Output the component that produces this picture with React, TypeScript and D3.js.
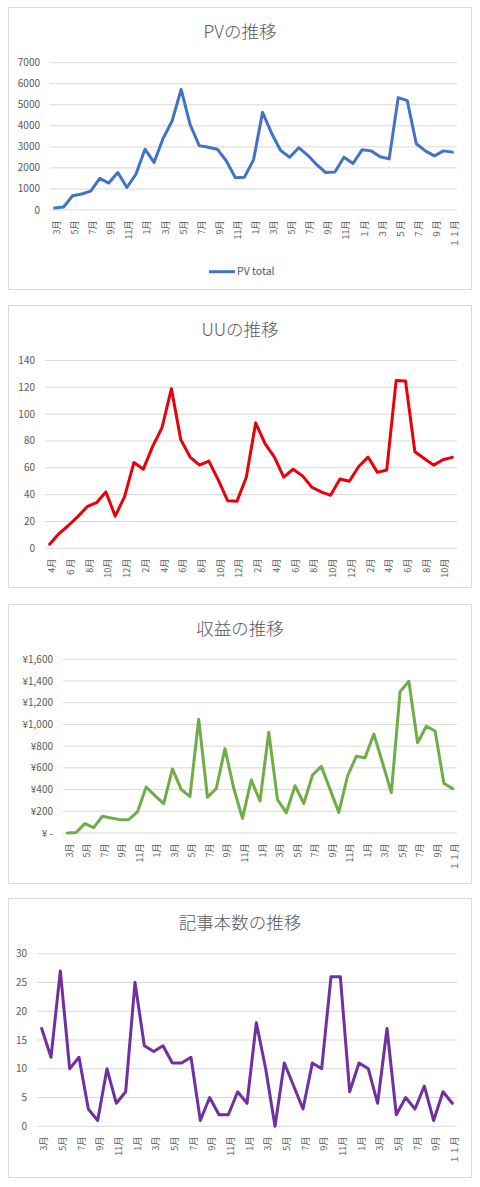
import React, { useEffect, useRef } from "react";
import * as d3 from "d3";

// month labels (the PV sheet uses full-width digits for the last year)
const pvMonths = [
  "3月", "4月", "5月", "6月", "7月", "8月", "9月", "10月", "11月", "12月",
  "1月", "2月", "3月", "4月", "5月", "6月", "7月", "8月", "9月", "10月", "11月", "12月",
  "1月", "2月", "3月", "4月", "5月", "6月", "7月", "8月", "9月", "10月", "11月", "12月",
  "１月", "２月", "３月", "４月", "５月", "６月", "７月", "８月", "９月", "１０月", "１１月",
];
const uuMonths = [
  "4月", "5月", "６月", "7月", "8月", "9月", "10月", "11月", "12月",
  "1月", "2月", "3月", "4月", "5月", "6月", "7月", "8月", "9月", "10月", "11月", "12月",
  "1月", "2月", "3月", "4月", "5月", "6月", "7月", "8月", "9月", "10月", "11月", "12月",
  "1月", "2月", "3月", "4月", "5月", "6月", "7月", "8月", "9月", "10月", "11月",
];
const months = [
  "3月", "4月", "5月", "6月", "7月", "8月", "9月", "10月", "11月", "12月",
  "1月", "2月", "3月", "4月", "5月", "6月", "7月", "8月", "9月", "10月", "11月", "12月",
  "1月", "2月", "3月", "4月", "5月", "6月", "7月", "8月", "9月", "10月", "11月", "12月",
  "1月", "2月", "3月", "4月", "5月", "6月", "7月", "8月", "9月", "10月", "１１月",
];

const pvTotal = [
  100, 140, 680, 760, 900, 1500, 1280, 1780, 1070, 1700, 2890, 2260, 3400, 4230, 5730,
  4050, 3060, 2980, 2890, 2330, 1530, 1560, 2380, 4640, 3650, 2830, 2510, 2960, 2600,
  2150, 1780, 1810, 2510, 2210, 2860, 2810, 2530, 2430, 5340, 5200, 3150, 2810, 2570,
  2810, 2750,
];
const uu = [
  3, 11, 17, 23.6, 31, 34, 42, 24, 38.5, 64, 59, 76, 90, 119, 81, 68, 62, 65, 51, 35.5,
  35, 53, 93.5, 78, 68, 53, 59, 54, 45.5, 42, 39.5, 51.7, 50, 61, 68, 56.6, 58.4, 125,
  124.7, 72, 67, 62, 66, 67.8,
];
const revenue = [
  0, 5, 86, 50, 154, 138, 123, 123, 194, 424, 344, 270, 590, 402, 335, 1048, 329, 409,
  777, 412, 135, 488, 295, 928, 307, 187, 436, 273, 534, 614, 402, 190, 525, 706, 694,
  912, 645, 372, 1302, 1398, 832, 983, 940, 458, 409,
];
const articles = [
  17, 12, 27, 10, 12, 3, 1, 10, 4, 6, 25, 14, 13, 14, 11, 11, 12, 1, 5, 2, 2, 6, 4, 18,
  10, 0, 11, 7, 3, 11, 10, 26, 26, 6, 11, 10, 4, 17, 2, 5, 3, 7, 1, 6, 4,
];

const pvTicks = [0, 1000, 2000, 3000, 4000, 5000, 6000, 7000];
const uuTicks = [0, 20, 40, 60, 80, 100, 120, 140];
const revenueTicks = [0, 200, 400, 600, 800, 1000, 1200, 1400, 1600];
const articleTicks = [0, 5, 10, 15, 20, 25, 30];

const FONT = "'Noto Sans CJK JP', 'Noto Sans', sans-serif";
const TEXT = "#595959";
const GRID = "#D9D9D9";

const yen = (v: number) => (v === 0 ? "¥ -" : "¥" + d3.format(",")(v));

const charts = [
  {
    title: "PVの推移", labels: pvMonths, values: pvTotal, ticks: pvTicks, fmt: String,
    color: "#4472C4", box: [7, 289], plot: { left: 50, top: 62.7, bottom: 210 },
    legend: "PV total",
  },
  {
    title: "UUの推移", labels: uuMonths, values: uu, ticks: uuTicks, fmt: String,
    color: "#E8000B", box: [305, 587], plot: { left: 45, top: 360.5, bottom: 548.3 },
  },
  {
    title: "収益の推移", labels: months, values: revenue, ticks: revenueTicks, fmt: yen,
    color: "#70AD47", box: [604, 883], plot: { left: 63, top: 659.3, bottom: 833 },
  },
  {
    title: "記事本数の推移", labels: months, values: articles, ticks: articleTicks, fmt: String,
    color: "#7030A0", box: [898, 1177], plot: { left: 37, top: 953.7, bottom: 1126.3 },
  },
];

export default function App() {
  const svgRef = useRef<SVGSVGElement>(null);

  useEffect(() => {
    if (!svgRef.current) return;
    const svg = d3.select(svgRef.current);
    svg.selectAll("*").remove();

    const right = 457;

    charts.forEach((c) => {
      const g = svg.append("g");
      const [bt, bb] = c.box;

      g.append("rect")
        .attr("x", 8.5)
        .attr("y", bt + 0.5)
        .attr("width", 463)
        .attr("height", bb - bt)
        .attr("fill", "#fff")
        .attr("stroke", GRID);

      g.append("text")
        .attr("x", 240)
        .attr("y", bt + 31)
        .attr("text-anchor", "middle")
        .style("font-family", FONT)
        .style("font-size", "17.5px")
        .style("font-weight", "300")
        .style("fill", TEXT)
        .text(c.title);

      const x = d3
        .scalePoint<number>()
        .domain(c.values.map((_, i) => i))
        .range([c.plot.left, right])
        .padding(0.5);

      const y = d3
        .scaleLinear()
        .domain([0, c.ticks[c.ticks.length - 1]])
        .range([c.plot.bottom, c.plot.top]);

      // gridlines
      g.selectAll(".grid")
        .data(c.ticks)
        .enter()
        .append("line")
        .attr("x1", c.plot.left)
        .attr("x2", right)
        .attr("y1", (d) => y(d))
        .attr("y2", (d) => y(d))
        .attr("stroke", GRID)
        .attr("stroke-width", 1);

      g.selectAll(".ytick")
        .data(c.ticks)
        .enter()
        .append("text")
        .attr("x", c.plot.left - 10)
        .attr("y", (d) => y(d))
        .attr("dy", "0.35em")
        .attr("text-anchor", "end")
        .style("font-family", FONT)
        .style("font-size", "10px")
        .style("fill", TEXT)
        .text((d) => c.fmt(d));

      // every other month label, rotated
      const shown = c.labels.map((l, i) => ({ l, i })).filter((d) => d.i % 2 === 0);
      g.selectAll(".xtick")
        .data(shown)
        .enter()
        .append("text")
        .attr("transform", (d) => `translate(${x(d.i)! + 5.5},${c.plot.bottom + 10.5}) rotate(-90)`)
        .attr("text-anchor", "end")
        .style("font-family", FONT)
        .style("font-size", "9px")
        .style("fill", TEXT)
        .text((d) => d.l);

      const line = d3
        .line<number>()
        .x((_, i) => x(i)!)
        .y((d) => y(d));

      g.append("path")
        .datum(c.values)
        .attr("d", line)
        .attr("fill", "none")
        .attr("stroke", c.color)
        .attr("stroke-width", 3)
        .attr("stroke-linejoin", "round")
        .attr("stroke-linecap", "round");

      if (c.legend) {
        g.append("line")
          .attr("x1", 209)
          .attr("x2", 235)
          .attr("y1", 271.7)
          .attr("y2", 271.7)
          .attr("stroke", c.color)
          .attr("stroke-width", 3);
        g.append("text")
          .attr("x", 237)
          .attr("y", 271.7)
          .attr("dy", "0.35em")
          .style("font-family", FONT)
          .style("font-size", "10.5px")
          .style("fill", TEXT)
          .text(c.legend);
      }
    });
  }, []);

  return (
    <svg
      ref={svgRef}
      width={480}
      height={1187}
      style={{ position: "absolute", left: 0, top: 0, background: "#fff" }}
    />
  );
}
